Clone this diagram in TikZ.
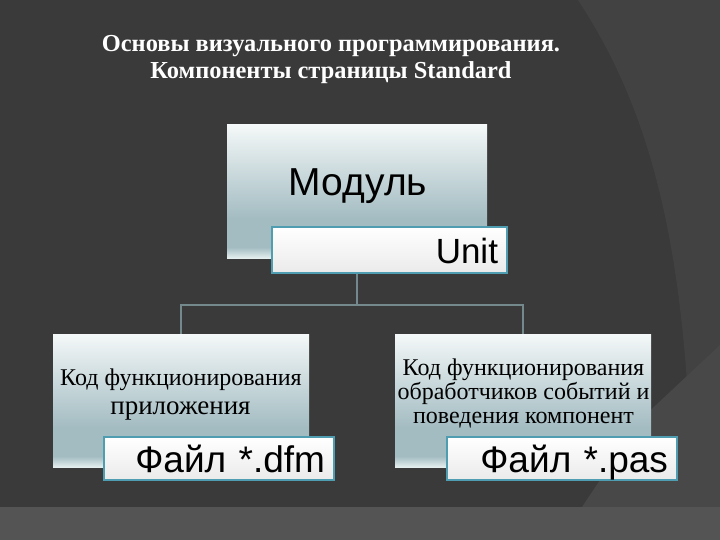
\documentclass[tikz,border=0pt]{standalone}
\usepackage{fontspec}
\setmainfont{Liberation Serif}
\newfontfamily\arialfont{Liberation Sans}
\usetikzlibrary{positioning,calc}

\definecolor{bgdark}{HTML}{3A3A3A}
\definecolor{bgmid}{HTML}{424242}
\definecolor{bglight}{HTML}{484848}
\definecolor{bgband}{HTML}{545454}
\definecolor{boxtop}{HTML}{F4F8F8}
\definecolor{boxlow}{HTML}{A3BCC2}
\definecolor{boxbot}{HTML}{E4EEEE}
\definecolor{fileline}{HTML}{4E9DB0}
\definecolor{connline}{HTML}{74898C}
\pgfdeclareverticalshading{boxshade}{100bp}{color(0bp)=(boxbot); color(25bp)=(boxbot); color(29bp)=(boxlow); color(40bp)=(boxlow); color(75bp)=(boxtop); color(100bp)=(boxtop)}

\begin{document}
\begin{tikzpicture}[x=1pt,y=-1pt,
		mainbox/.style={shading=boxshade,minimum width=256pt,minimum height=133pt,inner sep=0pt},
		filebox/.style={draw=fileline,line width=1.2pt,top color=white,bottom color=black!8,
			minimum height=43pt,inner xsep=9pt,inner ysep=8pt,text height=27pt,text depth=0pt,
			align=right,text=black,font=\arialfont\fontsize{37}{37}\selectfont},
		conn/.style={draw=connline,line width=2pt},
		boxtext/.style={anchor=base,text=black,font=\fontsize{24}{24}\selectfont}]
		\useasboundingbox (0,0) rectangle (720,540);
		
		% background
		\fill[bgdark] (0,0) rectangle (720,540);
		\fill[bgmid] (578,0) .. controls (650,110) and (692,250) .. (692,540) -- (720,540) -- (720,0) -- cycle;
		\fill[bglight] (720,345) -- (640,420) -- (560,540) -- (720,540) -- cycle;
		\fill[bgband] (0,507) rectangle (720,540);
		
		\node[align=center,text=white,font=\bfseries\fontsize{24.4}{27}\selectfont] (title) at (331,60)
			{Основы визуального программирования.\\Компоненты страницы Standard};
		
		% top
		\node[mainbox,minimum width=260pt] (modul) at (357,191.5) {};
		\node[anchor=base,text=black,font=\arialfont\fontsize{39}{39}\selectfont] at (358,196) {Модуль};
		\node[filebox,text width=217pt,font=\arialfont\fontsize{35}{35}\selectfont,
			minimum height=46pt,inner ysep=10pt,text height=26pt] (unit) at (389.5,250) {Unit};
		
		% lower boxes
		\node[mainbox] (kodl) at (181,400.5) {};
		\node[boxtext] at (181,385) {Код функционирования};
		\node[boxtext,font=\fontsize{27}{27}\selectfont] at (180.5,414) {приложения};
		
		\node[mainbox] (kodr) at (523,400.5) {};
		\node[boxtext,align=center] at (523.5,423) {Код функционирования\\обработчиков событий и\\поведения компонент};
		
		\node[filebox,text width=212pt] (dfm) at (219,458.5) {Файл *.dfm};
		\node[filebox,text width=212pt] (pas) at (562,458.5) {Файл *.pas};
		
		% connectors
		\draw[conn] (modul.south |- unit.south) -- ++(0,31) -| (kodl.north);
		\draw[conn] (modul.south |- unit.south) -- ++(0,31) -| (kodr.north);
	\end{tikzpicture}
\end{document}
